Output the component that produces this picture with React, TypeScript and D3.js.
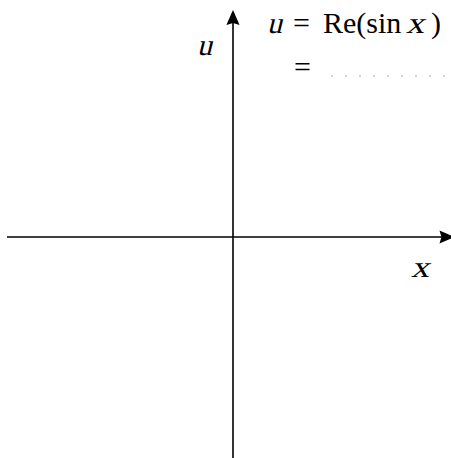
import React from "react";
import * as d3 from "d3";

const W = 451;
const H = 458;
const xDomain = [-1, 1];
const yDomain = [-1, 1];
const xAxisExtent = [-1, 0.98];
const yAxisExtent = [-1, 1];
const axisLabels = ["x", "u"];
const formulaLhs = "u";
const formulaRhs = ["Re(sin", "x", ")"];
const dotCount = [0, 1, 2, 3, 4, 5, 6, 7, 8];

const font = "'Liberation Serif', 'Times New Roman', serif";
const fs = 30;

function Slanted({ x, y, sx = 1, children }: { x: number; y: number; sx?: number; children: React.ReactNode }) {
  return (
    <text transform={`translate(${x},${y}) skewX(-14) scale(${sx},1)`} fontFamily={font} fontSize={fs}>
      {children}
    </text>
  );
}

export default function App() {
  const x = d3.scaleLinear().domain(xDomain).range([7, 459]);
  const y = d3.scaleLinear().domain(yDomain).range([464, 10]);
  const x0 = x(0);
  const y0 = y(0);
  const xEnd = x(xAxisExtent[1]);
  const yTop = y(yAxisExtent[1]);
  const arrow = "M0,0 C-4,-1.8 -10,-4.5 -15,-6.5 L-13,0 L-15,6.5 C-10,4.5 -4,1.8 0,0Z";
  const dotX = d3.scaleLinear().domain([0, 8]).range([332, 444]);
  return (
    <svg width={W} height={H} style={{ position: "absolute", left: 0, top: 0 }}>
      <rect width={W} height={H} fill="#fff" />
      <line x1={x(xAxisExtent[0])} y1={y0} x2={xEnd - 10} y2={y0} stroke="#000" strokeWidth={1.6} />
      <path d={arrow} transform={`translate(${xEnd},${y0})`} fill="#000" />
      <line x1={x0} y1={y(yAxisExtent[0])} x2={x0} y2={yTop + 10} stroke="#000" strokeWidth={1.6} />
      <path d={arrow} transform={`translate(${x0},${yTop}) rotate(-90)`} fill="#000" />
      <Slanted x={411} y={277} sx={1.2}>{axisLabels[0]}</Slanted>
      <Slanted x={197} y={55}>{axisLabels[1]}</Slanted>
      <Slanted x={267} y={33}>{formulaLhs}</Slanted>
      <text y={33} fontFamily={font} fontSize={fs}>
        <tspan x={293}>=</tspan>
        <tspan x={323}>{formulaRhs[0]}</tspan>
        <tspan x={431}>{formulaRhs[2]}</tspan>
      </text>
      <Slanted x={406} y={33} sx={1.2}>{formulaRhs[1]}</Slanted>
      <text x={294} y={77} fontFamily={font} fontSize={fs}>=</text>
      {dotCount.map((d) => (
        <circle key={d} cx={dotX(d)} cy={76} r={1.1} fill="#c8c8c8" />
      ))}
    </svg>
  );
}
